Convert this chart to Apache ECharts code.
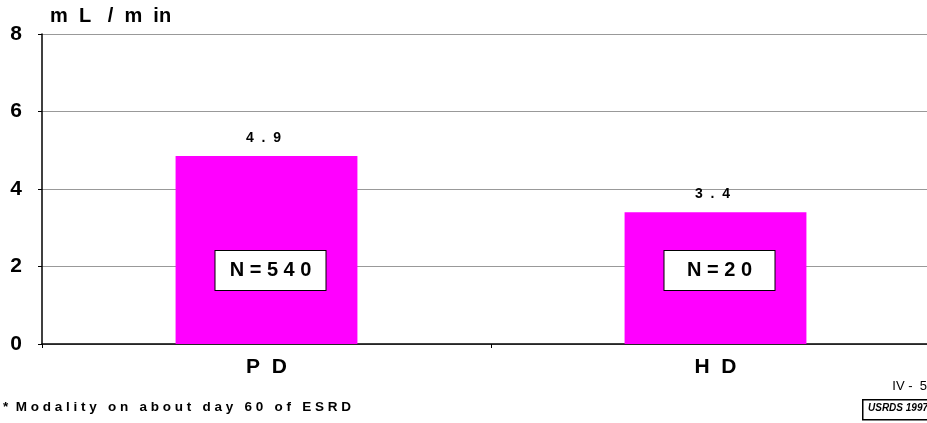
<!DOCTYPE html>
<html>
<head>
<meta charset="utf-8">
<script src="https://cdn.jsdelivr.net/npm/echarts@6/dist/echarts.min.js"></script>
<style>
  html, body { margin: 0; padding: 0; background: #fff; }
  #chart { width: 927px; height: 423px; }
</style>
</head>
<body>
<div id="chart"></div>
<script>
// modality groups and GFR values (mL/min)
const categories = ['PD', 'HD']
const values = [4.85, 3.4]
const valueLabels = ['4  .  9', '3  .  4']
const nLabels = ['N = 5 4 0', 'N = 2 0']
const nBoxLevel = 1.9
const yTicks = [0, 2, 4, 6, 8]

const font = '"Liberation Sans", Arial, sans-serif'
const spaced = s => s.split('').join('  ')

const chart = echarts.init(document.getElementById('chart'))

const option = {
  backgroundColor: '#fff',
  animation: false,
  grid: { left: 42, width: 898, top: 34, bottom: 79, outerBoundsMode: 'none', containLabel: false },
  xAxis: {
    type: 'category',
    data: categories,
    axisLine: { lineStyle: { color: '#000', width: 1.5 } },
    axisTick: { show: true, length: 4, alignWithLabel: false, lineStyle: { color: '#000' } },
    axisLabel: {
      formatter: v => spaced(v),
      color: '#000',
      fontFamily: font,
      fontWeight: 'bold',
      fontSize: 21,
      margin: 13
    }
  },
  yAxis: {
    type: 'value',
    min: yTicks[0],
    max: yTicks[yTicks.length - 1],
    interval: 2,
    axisLine: { show: true, lineStyle: { color: '#000', width: 1.5 } },
    axisTick: { show: true, length: 4, lineStyle: { color: '#000' } },
    axisLabel: {
      color: '#000',
      fontFamily: font,
      fontWeight: 'bold',
      fontSize: 21,
      margin: 20
    },
    splitLine: { lineStyle: { color: '#999', width: 1 } }
  },
  series: [
    {
      type: 'bar',
      data: values,
      barWidth: '40.5%',
      itemStyle: { color: '#ff00ff' },
      label: {
        show: true,
        position: 'top',
        distance: 11,
        offset: [-3, 0],
        formatter: p => valueLabels[p.dataIndex],
        color: '#000',
        fontFamily: font,
        fontWeight: 'bold',
        fontSize: 14
      }
    },
    {
      type: 'scatter',
      data: categories.map(() => nBoxLevel),
      symbolSize: 0,
      silent: true,
      itemStyle: { opacity: 1 },
      label: {
        show: true,
        position: 'inside',
        offset: [4, 0],
        formatter: p => nLabels[p.dataIndex],
        color: '#000',
        fontFamily: font,
        fontWeight: 'bold',
        fontSize: 20,
        backgroundColor: '#fff',
        borderColor: '#000',
        borderWidth: 1,
        width: 102,
        align: 'center',
        padding: [10, 4, 9, 4]
      }
    }
  ],
  graphic: [
    {
      type: 'text', left: 50, top: 6,
      style: { text: 'm  L   /  m  in', fontFamily: font, fontWeight: 'bold', fontSize: 20, fill: '#000' }
    },
    {
      type: 'text', left: 3, top: 400,
      style: { text: '*  M o d a l i t y   o n   a b o u t   d a y   6 0   o f   E S R D', fontFamily: font, fontWeight: 'bold', fontSize: 13.5, fill: '#000' }
    },
    {
      type: 'text', right: 0, top: 380,
      style: { text: 'IV -  5', fontFamily: font, fontSize: 13, fill: '#000' }
    },
    {
      type: 'rect', left: 862, top: 399,
      shape: { width: 70, height: 20 },
      style: { fill: '#fff', stroke: '#000', lineWidth: 1.5 }
    },
    {
      type: 'text', left: 868, top: 403,
      style: { text: 'USRDS 1997', fontFamily: font, fontWeight: 'bold', fontStyle: 'italic', fontSize: 10, fill: '#000' }
    }
  ]
}

chart.setOption(option)
</script>
</body>
</html>
